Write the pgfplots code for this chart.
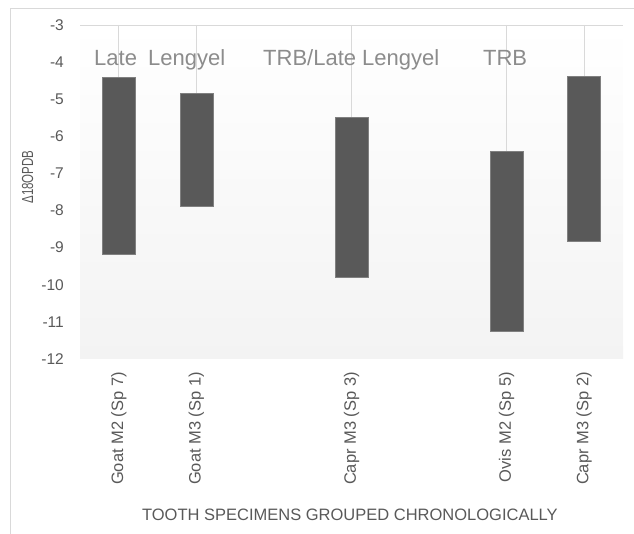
\documentclass[border=0pt]{standalone}
\usepackage{fontspec}
\setmainfont{Liberation Sans}
\usepackage{pgfplots}
\pgfplotsset{compat=1.18}
\definecolor{tickc}{HTML}{595959}
\definecolor{grpc}{HTML}{8C8C8C}
\definecolor{barfill}{HTML}{595959}
\definecolor{bardraw}{HTML}{808080}
\definecolor{gridc}{HTML}{D9D9D9}
\definecolor{bgbot}{HTML}{F3F3F3}
\definecolor{bgmid}{HTML}{FAFAFA}

\begin{document}
\begin{tikzpicture}[x=1pt,y=1pt]
\draw[gridc, line width=0.8pt] (10,0) -- (10,526) -- (634,526);
\begin{axis}[
  at={(80pt,175pt)}, anchor=south west,
  scale only axis, width=543pt, height=334pt,
  xmin=-0.5, xmax=6.5, ymin=-12, ymax=-3,
  ytick={-12,-11,...,-3},
  xtick={0,1,3,5,6},
  xticklabels={Goat M2 (Sp 7), Goat M3 (Sp 1), Capr M3 (Sp 3), Ovis M2 (Sp 5), Capr M3 (Sp 2)},
  extra y ticks={-3}, extra y tick labels={},
  extra y tick style={grid=major, major grid style={draw=gridc, line width=0.8pt}},
  axis line style={draw=none},
  major tick length=0pt,
  tick style={draw=none},
  axis background/.style={shade, top color=white, middle color=bgmid, bottom color=bgbot},
  /pgf/number format/assume math mode=true,
  yticklabel style={font=\fontsize{15.5}{18}\selectfont, text=tickc, anchor=east, inner sep=0pt, xshift=-16pt},
  xticklabel style={font=\fontsize{16.5}{19}\selectfont, text=tickc, yshift=-13pt, rotate=90, anchor=east, inner sep=0pt},
  xlabel={TOOTH SPECIMENS GROUPED CHRONOLOGICALLY},
  xlabel style={font=\fontsize{16.5}{19}\selectfont, text=tickc, at={(axis description cs:0.497,-0.467)}, anchor=center},
  ylabel={\scalebox{0.72}[1]{Δ18OPDB}},
  ylabel style={font=\fontsize{16}{19}\selectfont, text=tickc, at={(axis description cs:-0.0967,0.545)}, anchor=center},
  clip=false,
]
% high lines from the top of each range up to -3
\addplot[draw=gridc, line width=0.8pt, unbounded coords=jump] coordinates {
  (0,-3) (0,-4.42) (0,nan)
  (1,-3) (1,-4.83) (1,nan)
  (3,-3) (3,-5.49) (3,nan)
  (5,-3) (5,-6.40) (5,nan)
  (6,-3) (6,-4.38)
};
% floating range bars (low to high), width 0.425
\addplot[fill=barfill, draw=bardraw, line width=0.6pt] coordinates {(-0.2125,-9.17) (0.2125,-9.17) (0.2125,-4.42) (-0.2125,-4.42)} --cycle;
\addplot[fill=barfill, draw=bardraw, line width=0.6pt] coordinates {(0.7875,-7.89) (1.2125,-7.89) (1.2125,-4.83) (0.7875,-4.83)} --cycle;
\addplot[fill=barfill, draw=bardraw, line width=0.6pt] coordinates {(2.7875,-9.81) (3.2125,-9.81) (3.2125,-5.49) (2.7875,-5.49)} --cycle;
\addplot[fill=barfill, draw=bardraw, line width=0.6pt] coordinates {(4.7875,-11.26) (5.2125,-11.26) (5.2125,-6.40) (4.7875,-6.40)} --cycle;
\addplot[fill=barfill, draw=bardraw, line width=0.6pt] coordinates {(5.7875,-8.82) (6.2125,-8.82) (6.2125,-4.38) (5.7875,-4.38)} --cycle;

\node[anchor=base west, text=grpc, font=\fontsize{22}{25}\selectfont, inner sep=0pt] at (rel axis cs:0.0258,0.8775) {Late};
\node[anchor=base west, text=grpc, font=\fontsize{22}{25}\selectfont, inner sep=0pt] at (rel axis cs:0.1252,0.8775) {Lengyel};
\node[anchor=base west, text=grpc, font=\fontsize{22}{25}\selectfont, inner sep=0pt] at (rel axis cs:0.337,0.8775) {TRB/Late Lengyel};
\node[anchor=base west, text=grpc, font=\fontsize{22}{25}\selectfont, inner sep=0pt] at (rel axis cs:0.742,0.8775) {TRB};
\end{axis}
\pgfresetboundingbox
\useasboundingbox (0,0) rectangle (634,534);
\end{tikzpicture}
\end{document}
